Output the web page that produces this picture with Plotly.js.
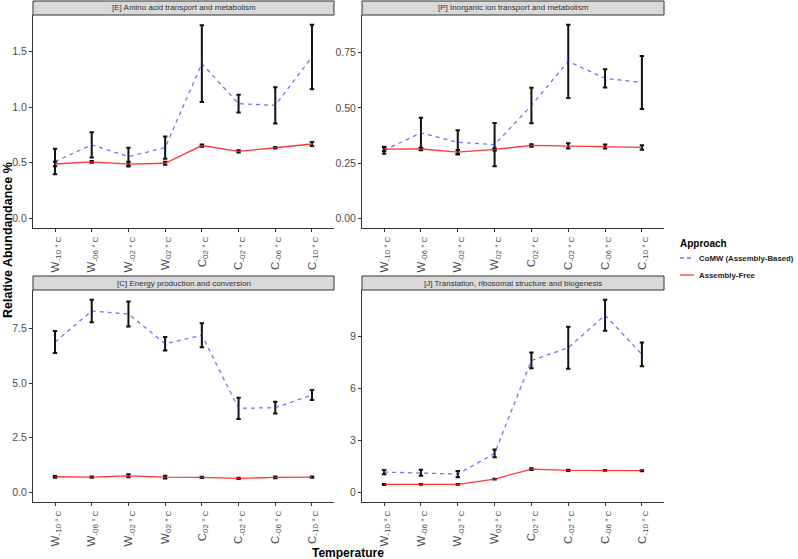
<!DOCTYPE html>
<html>
<head>
<meta charset="utf-8">
<script src="https://cdn.plot.ly/plotly-3.0.1.min.js"></script>
<style>html,body{margin:0;padding:0;background:#fff;}#chart{width:798px;height:559px;}</style>
</head>
<body>
<div id="chart"></div>
<script>
// ---- data ----
const categories = ["W-10", "W-06", "W-02", "W02", "C02", "C-02", "C-06", "C-10"];
const tickLabels = ["W<sub>-10 ° C</sub>", "W<sub>-06 ° C</sub>", "W<sub>-02 ° C</sub>", "W<sub>02 ° C</sub>",
                    "C<sub>02 ° C</sub>", "C<sub>-02 ° C</sub>", "C<sub>-06 ° C</sub>", "C<sub>-10 ° C</sub>"];
const seriesNames = ["CoMW (Assembly-Based)", "Assembly-Free"];
const panelTitles = ["[E] Amino acid transport and metabolism", "[P] Inorganic ion transport and metabolism",
                     "[C] Energy production and conversion", "[J] Translation, ribosomal structure and biogenesis"];

const E_comw    = [0.51, 0.66, 0.555, 0.635, 1.39, 1.03, 1.015, 1.45];
const E_comw_sd = [0.115, 0.113, 0.08, 0.10, 0.345, 0.08, 0.163, 0.29];
const E_free    = [0.488, 0.507, 0.487, 0.495, 0.654, 0.602, 0.634, 0.668];
const E_free_sd = [0.02, 0.008, 0.022, 0.014, 0.01, 0.01, 0.006, 0.018];

const P_comw    = [0.308, 0.387, 0.344, 0.334, 0.511, 0.711, 0.634, 0.615];
const P_comw_sd = [0.016, 0.069, 0.055, 0.098, 0.08, 0.166, 0.041, 0.12];
const P_free    = [0.313, 0.314, 0.300, 0.312, 0.330, 0.328, 0.325, 0.321];
const P_free_sd = [0.008, 0.006, 0.009, 0.005, 0.006, 0.012, 0.009, 0.010];

const C_comw    = [6.89, 8.31, 8.17, 6.81, 7.20, 3.85, 3.88, 4.46];
const C_comw_sd = [0.50, 0.52, 0.57, 0.31, 0.55, 0.49, 0.27, 0.23];
const C_free    = [0.715, 0.70, 0.76, 0.70, 0.685, 0.64, 0.685, 0.70];
const C_free_sd = [0.04, 0.03, 0.07, 0.06, 0.025, 0.03, 0.04, 0.03];

const J_comw    = [1.17, 1.13, 1.06, 2.25, 7.62, 8.35, 10.23, 7.97];
const J_comw_sd = [0.12, 0.17, 0.18, 0.22, 0.45, 1.21, 0.90, 0.68];
const J_free    = [0.46, 0.46, 0.46, 0.77, 1.34, 1.27, 1.27, 1.25];
const J_free_sd = [0.03, 0.02, 0.02, 0.02, 0.05, 0.03, 0.02, 0.03];

// ---- layout helpers ----
const W = 798, H = 559;
const fx = v => v / W;
const fy = v => 1 - v / H;
const FONT = "Liberation Sans, Arial, Helvetica, sans-serif";

const panels = [
  {title: panelTitles[0], a: E_comw, as: E_comw_sd, b: E_free, bs: E_free_sd, x0: 33, x1: 334, y0: 15, y1: 228, dtick: 0.5, fmt: ".1f"},
  {title: panelTitles[1], a: P_comw, as: P_comw_sd, b: P_free, bs: P_free_sd, x0: 362, x1: 664, y0: 15, y1: 228, dtick: 0.25, fmt: ".2f"},
  {title: panelTitles[2], a: C_comw, as: C_comw_sd, b: C_free, bs: C_free_sd, x0: 33, x1: 334, y0: 290, y1: 502, dtick: 2.5, fmt: ".1f"},
  {title: panelTitles[3], a: J_comw, as: J_comw_sd, b: J_free, bs: J_free_sd, x0: 362, x1: 664, y0: 290, y1: 502, dtick: 3, fmt: "d"}
];

const blue = "rgba(40,40,255,0.65)";
const red = "rgba(255,20,20,0.85)";

const traces = [];
const layout = {
  width: W, height: H,
  margin: {l: 0, r: 0, t: 0, b: 0},
  paper_bgcolor: "#fff", plot_bgcolor: "#fff",
  showlegend: false,
  font: {family: FONT, color: "#4d4d4d"},
  shapes: [], annotations: []
};

panels.forEach((p, i) => {
  const n = i === 0 ? "" : String(i + 1);
  const xa = "x" + n, ya = "y" + n;
  const errStyle = {type: "data", visible: true, color: "#111", thickness: 2, width: 2.2};
  traces.push({
    type: "scatter", mode: "lines", x: categories, y: p.a, name: seriesNames[0],
    xaxis: xa, yaxis: ya,
    line: {color: blue, width: 1.3, dash: "4px,4px"},
    error_y: Object.assign({array: p.as}, errStyle)
  });
  traces.push({
    type: "scatter", mode: "lines", x: categories, y: p.b, name: seriesNames[1],
    xaxis: xa, yaxis: ya,
    line: {color: red, width: 1.3},
    error_y: Object.assign({array: p.bs}, errStyle)
  });
  let hi = 0;
  p.a.forEach((v, k) => { hi = Math.max(hi, v + p.as[k]); });
  p.b.forEach((v, k) => { hi = Math.max(hi, v + p.bs[k]); });
  const pad = 0.05 * hi;
  layout["xaxis" + n] = {
    domain: [fx(p.x0), fx(p.x1)], anchor: ya,
    type: "category", categoryorder: "array", categoryarray: categories,
    range: [-0.6, categories.length - 0.4],
    tickvals: categories, ticktext: tickLabels, tickangle: -90,
    tickfont: {family: FONT, size: 11.5, color: "#4d4d4d"},
    showline: true, linecolor: "#333", linewidth: 1,
    ticks: "outside", ticklen: 3, tickcolor: "#333", tickwidth: 1,
    showgrid: false, zeroline: false, fixedrange: true
  };
  layout["yaxis" + n] = {
    domain: [fy(p.y1), fy(p.y0)], anchor: xa,
    range: [-pad, hi + pad], dtick: p.dtick, tick0: 0, tickformat: p.fmt,
    tickfont: {family: FONT, size: 10.5, color: "#4d4d4d"},
    showline: true, linecolor: "#333", linewidth: 1,
    ticks: "outside", ticklen: 3, tickcolor: "#333", tickwidth: 1,
    showgrid: false, zeroline: false, fixedrange: true
  };
  // facet strip
  layout.shapes.push({
    type: "rect", xref: "paper", yref: "paper",
    x0: fx(p.x0), x1: fx(p.x1), y0: fy(p.y0), y1: fy(p.y0 - 14),
    fillcolor: "#d9d9d9", line: {color: "#333", width: 1}, layer: "below"
  });
  layout.annotations.push({
    xref: "paper", yref: "paper", x: fx((p.x0 + p.x1) / 2), y: fy(p.y0 - 7),
    text: p.title, showarrow: false, xanchor: "center", yanchor: "middle",
    font: {family: FONT, size: 8, color: "#333"}
  });
});

// axis titles
layout.annotations.push({
  xref: "paper", yref: "paper", x: fx(8), y: fy(240), text: "<b>Relative Abundandance %</b>",
  textangle: -90, showarrow: false, xanchor: "center", yanchor: "middle",
  font: {family: FONT, size: 12.5, color: "#000"}
});
layout.annotations.push({
  xref: "paper", yref: "paper", x: fx(348), y: fy(552.5), text: "<b>Temperature</b>",
  showarrow: false, xanchor: "center", yanchor: "middle",
  font: {family: FONT, size: 12, color: "#000"}
});

// legend (drawn manually to match ggplot key size)
layout.annotations.push({
  xref: "paper", yref: "paper", x: fx(678), y: fy(243), text: "<b>Approach</b>",
  showarrow: false, xanchor: "left", yanchor: "middle",
  font: {family: FONT, size: 10, color: "#000"}
});
const legendY = [258, 275];
const legendStyle = [{color: blue, width: 1.3, dash: "4px,3px"}, {color: red, width: 1.3}];
seriesNames.forEach((s, k) => {
  layout.shapes.push({
    type: "line", xref: "paper", yref: "paper",
    x0: fx(680), x1: fx(694), y0: fy(legendY[k]), y1: fy(legendY[k]),
    line: legendStyle[k]
  });
  layout.annotations.push({
    xref: "paper", yref: "paper", x: fx(697), y: fy(legendY[k]), text: "<b>" + s + "</b>",
    showarrow: false, xanchor: "left", yanchor: "middle",
    font: {family: FONT, size: 7.8, color: "#222"}
  });
});

Plotly.newPlot("chart", traces, layout, {staticPlot: true, displayModeBar: false});
</script>
</body>
</html>
